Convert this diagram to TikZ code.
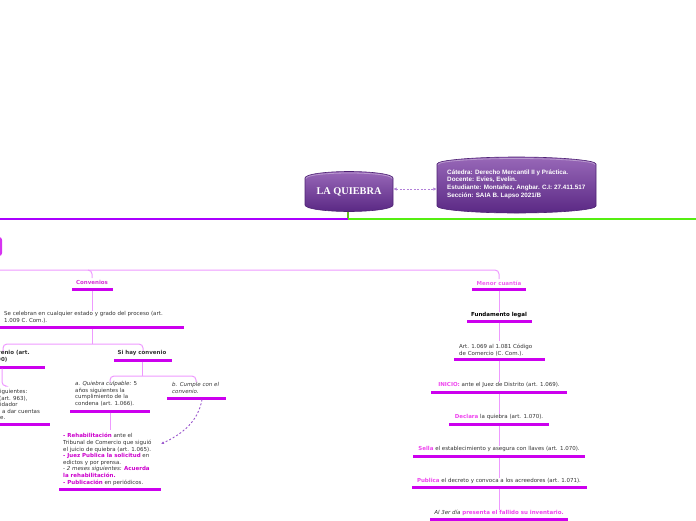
\documentclass[tikz,border=0pt]{standalone}
\usepackage{fontspec}
\setmainfont{DejaVu Sans}
\newfontfamily\titlefont{Liberation Serif}
\newfontfamily\infofont{Liberation Sans}
\usetikzlibrary{arrows.meta}
\definecolor{barc}{HTML}{CC00EE}
\definecolor{linkc}{HTML}{EE99FF}
\definecolor{hl}{HTML}{EE44EE}
\definecolor{hlb}{HTML}{CC00CC}
\definecolor{txt}{HTML}{333333}
\definecolor{mainpurple}{HTML}{AA00FF}
\definecolor{maingreen}{HTML}{55EE11}
\definecolor{stemc}{HTML}{66BB22}
\definecolor{boxtop}{HTML}{9868B8}
\definecolor{boxbot}{HTML}{5A2884}
\definecolor{boxedge}{HTML}{4E2274}
\definecolor{dashc}{HTML}{9955CC}
\newcommand{\hlA}[1]{\textcolor{hl}{\textbf{#1}}}
\newcommand{\hlB}[1]{\textcolor{hlb}{\textbf{#1}}}
\tikzset{
  bar/.style={line width=3pt, barc},
  link/.style={line width=1pt, linkc, rounded corners=4pt},
  lbl/.style={font=\fontsize{5.5}{6.6}\selectfont, text=txt, inner sep=0pt, align=left},
  clbl/.style={font=\fontsize{5.5}{6.6}\selectfont, text=txt, inner sep=0pt, align=center},
  boxshade/.style={top color=boxtop, bottom color=boxbot, draw=boxedge, line width=0.6pt},
}
\begin{document}
\begin{tikzpicture}[x=1pt,y=-1pt]
\useasboundingbox (0,0) rectangle (696,520);
% central node
\shade[boxshade] (305,178) -- (305,205) .. controls (305,209) and (327,211.5) .. (349,211.5) .. controls (371,211.5) and (393,209) .. (393,205) -- (393,178) .. controls (393,174) and (371,171.5) .. (349,171.5) .. controls (327,171.5) and (305,174) .. (305,178) -- cycle;
\draw[white, opacity=0.35, line width=0.8pt] (306,178.5) .. controls (306,175) and (327,173) .. (349,173) .. controls (371,173) and (392,175) .. (392,178.5);
\node[inner sep=0pt, minimum width=88pt, minimum height=40pt, text=white, font=\titlefont\bfseries\fontsize{10.3}{11}\selectfont] (root) at (349,191.5) {LA QUIEBRA};
% info node
\shade[boxshade] (437,164) -- (437,206) .. controls (437,210) and (476,213) .. (516.5,213) .. controls (557,213) and (596,210) .. (596,206) -- (596,164) .. controls (596,160) and (557,157) .. (516.5,157) .. controls (476,157) and (437,160) .. (437,164) -- cycle;
\draw[white, opacity=0.35, line width=0.8pt] (438,164.5) .. controls (438,161) and (476,158.5) .. (516.5,158.5) .. controls (557,158.5) and (595,161) .. (595,164.5);
\node[inner sep=0pt, minimum width=159pt, minimum height=56pt] (info) at (516.5,185) {};
\node[anchor=north west, inner sep=0pt, align=left, text=white, font=\infofont\bfseries\fontsize{6.3}{7.7}\selectfont] (infotext) at (447,169.3) {Cátedra: Derecho Mercantil II y Práctica.\\Docente: Evies, Evelin.\\Estudiante: Montañez, Angbar. C.I: 27.411.517\\Sección: SAIA B. Lapso 2021/B};
\draw[dashc!75, dashed, dash pattern=on 2pt off 1.5pt, line width=1pt, {Latex[length=3.5pt,width=3.5pt]}-{Latex[length=3.5pt,width=3.5pt]}] (root.east |- 0,189) -- (info.west |- 0,189);
% main line
\coordinate (split) at (348,219);
\draw[stemc, line width=1.5pt] (root.south -| split) -- (split);
\draw[mainpurple, line width=2.2pt] (0,219) -- (split);
\draw[maingreen, line width=2.2pt] (split) -- (696,219);
% partial left node
\draw[barc!80!white, line width=2pt, rounded corners=2pt] (-60,238) rectangle (1,255);
% second level connector
\coordinate (lvl) at (0,270);
\draw[link] (lvl) -- (499,270) -- (499,279);
\draw[link] (88,270) -- (92,270) -- (92,278);
% Convenios branch
\node[clbl, font=\fontsize{5.5}{6.6}\selectfont\bfseries, text=hlb!80!white] (conv) at (92,282) {Convenios};
\draw[bar] (72,289) -- (113,289);
\node[lbl, anchor=north west] (celebra) at (4,311.3) {Se celebran en cualquier estado y grado del proceso (art.\\1.009 C. Com.).};
\draw[bar] (0,327) -- (184,327);
\draw[link] (92,290.5) -- (celebra.north -| 92,0);
\coordinate (cj) at (92,344);
\draw[link] (92,328.5) -- (cj);
\draw[link] (3,352) -- (3,344) -- (143,344) -- (143,351);
\node[lbl, anchor=north west, font=\fontsize{5.5}{6.6}\selectfont\bfseries] (sin) at (-3,350.3) {venio (art.\\90)};
\draw[bar] (0,367) -- (45,367);
\node[lbl, anchor=north west] (sinc) at (0,389.5) {iguientes:\\[-0.2pt]\hspace*{-1pt}(art. 963),\\[-0.2pt]idador\\[-0.2pt]\hspace*{2pt}a dar cuentas\\[-0.2pt]e.};
\draw[bar] (0,424) -- (50,424);
\draw[link] (2,368.5) -- (2,386) -- (5,386);
\node[clbl, font=\fontsize{5.5}{6.6}\selectfont\bfseries] (si) at (142,353) {Si hay convenio};
\draw[bar] (114,360) -- (172,360);
\draw[link] (142,361.5) -- (142,376);
\draw[link] (110,382) -- (110,376) -- (196,376) -- (196,382);
\node[lbl, anchor=north west] (culp) at (75,381.3) {\textit{a. Quiebra culpable:} 5\\años siguientes la\\cumplimiento de la\\condena (art. 1.066).};
\draw[bar] (70,411) -- (150,411);
\node[lbl, anchor=north west] (cumple) at (172,382.3) {\textit{b. Cumple con el}\\\textit{convenio.}};
\draw[bar] (167,398) -- (226,398);
\node[lbl, anchor=north west] (rehab) at (63,433.3) {\hlB{- Rehabilitación} ante el\\Tribunal de Comercio que siguió\\el juicio de quiebra (art. 1.065).\\\hlB{- Juez Publica la solicitud} en\\edictos y por prensa.\\- \textit{2 meses siguientes:} \hlB{Acuerda}\\\hlB{la rehabilitación.}\\\hlB{- Publicación} en periódicos.};
\draw[bar] (59,489) -- (161,489);
\draw[link] (110,412.5) -- (110,430);
\coordinate (cumplebar) at (202,399.5);
\draw[dashc, dashed, dash pattern=on 2pt off 2pt, line width=0.9pt, -{Latex[length=3pt,width=3pt]}] (cumplebar) .. controls (198,422) and (182,434) .. (161,444);
% Menor cuantia branch
\node[clbl, font=\fontsize{5.5}{6.6}\selectfont\bfseries, text=hl!85!white] (menor) at (499,283) {Menor cuantía};
\draw[bar] (472,289) -- (526,289);
\node[clbl, font=\fontsize{5.5}{6.6}\selectfont\bfseries, text=black] (fund) at (499,315) {Fundamento legal};
\draw[bar] (467,321) -- (532,321);
\node[lbl, anchor=north west] (art) at (459,344.3) {Art. 1.069 al 1.081 Código\\de Comercio (C. Com.).};
\draw[bar] (454,359) -- (545,359);
\node[clbl] (inicio) at (499,384.5) {\hlA{INICIO:} ante el Juez de Distrito (art. 1.069).};
\draw[bar] (431,392) -- (567,392);
\node[clbl] (declara) at (499,416.5) {\hlA{Declara} la quiebra (art. 1.070).};
\draw[bar] (449,424) -- (549,424);
\node[clbl] (sella) at (499,449) {\hlA{Sella} el establecimiento y asegura con llaves (art. 1.070).};
\draw[bar] (413,456) -- (585,456);
\node[clbl] (publica) at (499,481) {\hlA{Publica} el decreto y convoca a los acreedores (art. 1.071).};
\draw[bar] (412,487) -- (587,487);
\node[clbl] (tercer) at (499,512.5) {\textit{Al 3er día} \hlA{presenta el fallido su inventario.}};
\draw[bar] (430,519) -- (568,519);
\draw[link] (499,290.5) -- (fund.north);
\draw[link] (499,322.5) -- (499,341);
\draw[link] (499,360.5) -- (inicio.north);
\draw[link] (499,393.5) -- (declara.north);
\draw[link] (499,425.5) -- (sella.north);
\draw[link] (499,457.5) -- (publica.north);
\draw[link] (499,488.5) -- (tercer.north);
\end{tikzpicture}
\end{document}
